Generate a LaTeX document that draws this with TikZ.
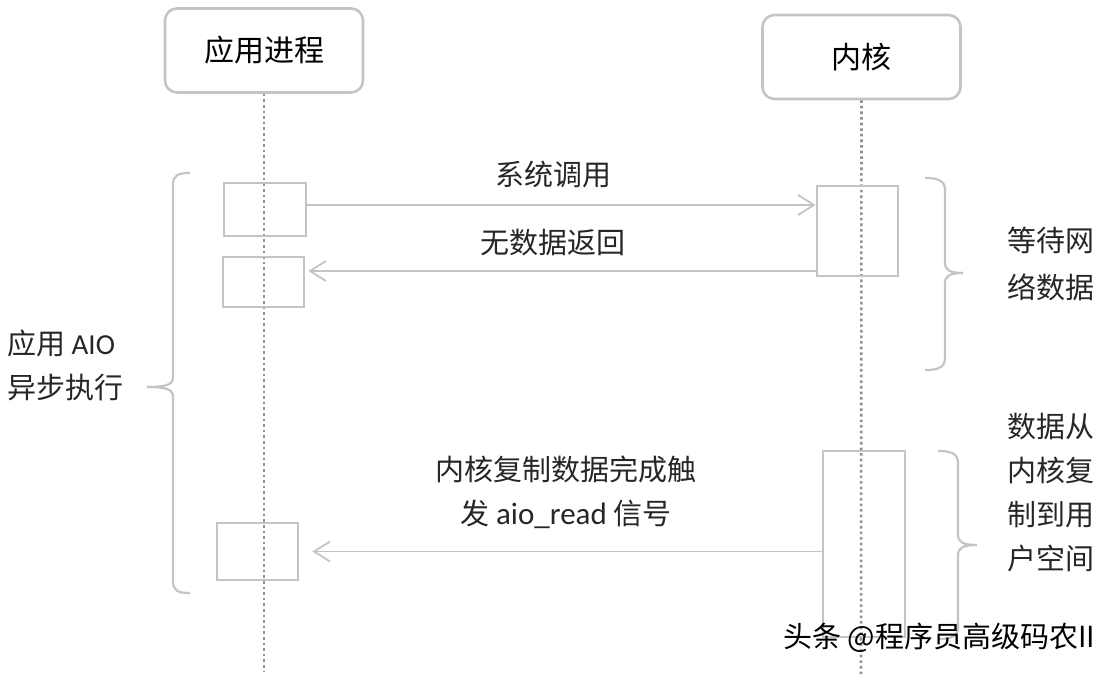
\documentclass[tikz,border=0pt]{standalone}
\usepackage{fontspec}
\setmainfont{Noto Sans CJK SC}
\newfontfamily\lat{Carlito}
\usetikzlibrary{arrows.meta}
\definecolor{lg}{HTML}{C4C4C4}
\definecolor{dg}{HTML}{929292}
\begin{document}
\begin{tikzpicture}[x=1pt,y=-1pt,
  head/.style={draw=lg, line width=2.6pt, rounded corners=12pt, minimum width=198pt, minimum height=84pt, inner sep=0pt, font=\fontsize{30}{36}\selectfont},
  act/.style={draw=lg, line width=2.6pt, inner sep=0pt},
  life/.style={draw=dg, line width=2.6pt, dash pattern=on 2.6pt off 3pt},
  msg/.style={draw=lg, line width=1.8pt, -{Straight Barb[length=16pt,width=20pt]}},
  lbl/.style={font=\fontsize{29}{44}\selectfont, align=center, inner sep=0pt, text=black!85},
  bracestyle/.style={draw=lg, line width=2.2pt}]
\useasboundingbox (0,0) rectangle (1108,676);
% heads
\node[head] (app) at (264,50.5) {应用进程};
\node[head] (ker) at (861.5,57) {内核};
% lifelines
\coordinate (append) at (264,672);
\coordinate (kerend) at (861,676);
\draw[life] (app.south) -- (append);
\draw[life] (ker.south) -- (kerend);
% activation boxes
\node[act, minimum width=82pt, minimum height=53pt] (a1) at (265,209.5) {};
\node[act, minimum width=81pt, minimum height=50pt] (a2) at (263.5,282) {};
\node[act, minimum width=81pt, minimum height=57pt] (a3) at (257.5,551.5) {};
\node[act, minimum width=81pt, minimum height=90pt] (k1) at (857.5,231) {};
\node[act, minimum width=82pt, minimum height=186pt] (k2) at (864,544) {};
% messages
\coordinate (m1) at (0,205);
\coordinate (m2) at (0,271);
\coordinate (m3) at (0,551.5);
\draw[msg] (a1.east |- m1) -- (k1.west |- m1);
\draw[msg, shorten >=3pt] (k1.west |- m2) -- (a2.east |- m2);
\draw[msg, shorten >=13pt] (k2.west |- m3) -- (a3.east |- m3);
% labels
\node[lbl] (t1) at (553,174) {系统调用};
\node[lbl] (t2) at (553,243) {无数据返回};
\node[lbl] (t3) at (566,492) {内核复制数据完成触\\发 {\lat\fontsize{31}{44}\selectfont aio\_read} 信号};
\node[lbl, anchor=west, align=left] (t4) at (7,365.5) {应用 {\lat AIO}\\异步执行};
\node[lbl, anchor=west, align=left] (t5) at (1007,263.5) {等待网\\[3pt]络数据};
\node[lbl, anchor=west, align=left] (t6) at (1007,493) {数据从\\内核复\\制到用\\户空间};
% braces
\draw[bracestyle] (190,173) .. controls (178,173) and (173,175) .. (173,185) -- (173,377) .. controls (173,384) and (168,387) .. (147,387);
\draw[bracestyle] (147,387) .. controls (168,387) and (173,390) .. (173,397) -- (173,581) .. controls (173,591) and (178,593) .. (190,593);
\draw[bracestyle] (925,178) .. controls (937,178) and (945,180) .. (945,190) -- (945,263) .. controls (945,270) and (950,273) .. (963,273);
\draw[bracestyle] (963,273) .. controls (950,273) and (945,276) .. (945,283) -- (945,358) .. controls (945,368) and (937,370) .. (925,370);
\draw[bracestyle] (938,451) .. controls (950,451) and (958,453) .. (958,463) -- (958,535) .. controls (958,542) and (963,545) .. (977,545);
\draw[bracestyle] (977,545) .. controls (963,545) and (958,548) .. (958,555) -- (958,627) .. controls (958,637) and (950,639) .. (938,639);
% watermark
\node[font=\fontsize{29}{32}\selectfont, anchor=west, inner sep=0pt, text=black] (wm) at (783,638) {头条 @程序员高级码农II};
\end{tikzpicture}
\end{document}
